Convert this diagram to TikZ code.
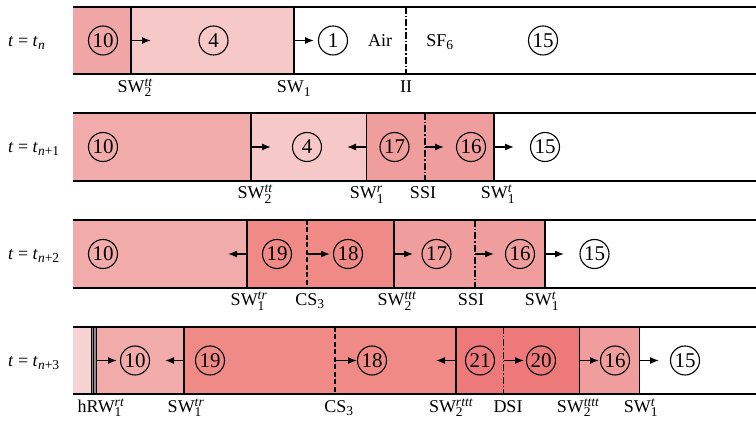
\documentclass[tikz,border=0pt]{standalone}
\usepackage{fontspec}
\setmainfont{Liberation Serif}
\usetikzlibrary{arrows.meta}
\newcommand{\fs}{\fontsize{18}{21}\selectfont}
\newcommand{\fn}{\fontsize{21}{24}\selectfont}
\newcommand{\sm}{\fontsize{13.5}{14}\selectfont}
% label with subscript and italic superscript
\newcommand{\swl}[3]{#1$_{\hbox{\sm #2}}^{\hbox{\sm\itshape #3}}$}
\newcommand{\tl}[1]{\textit{t} = \textit{t}$_{\hbox{\sm #1}}$}
\definecolor{cTenA}{HTML}{F0A6A6}
\definecolor{cFour}{HTML}{F6C8C8}
\definecolor{cTen}{HTML}{F2ABAB}
\definecolor{cSeven}{HTML}{EF9D9D}
\definecolor{cNine}{HTML}{EF8A86}
\definecolor{cTwenty}{HTML}{EE797B}
\definecolor{cPale}{HTML}{F8D2D2}
\tikzset{
  rail/.style={line width=2pt},
  wall/.style={line width=1.1pt},
  iface/.style={line width=1.1pt, dash pattern=on 7pt off 2pt on 1.5pt off 2pt},
  csline/.style={line width=1.1pt, dash pattern=on 5pt off 2.5pt},
  num/.style={circle, draw, line width=1.1pt, minimum size=29pt, inner sep=0pt, font=\fn},
  flow/.style={-{Latex[length=9pt,width=7pt]}, line width=1.3pt},
  lab/.style={anchor=base, inner sep=0pt, font=\fs},
  rowlab/.style={anchor=base west, inner sep=0pt, font=\fs},
}
\begin{document}
\begin{tikzpicture}[x=1pt,y=-1pt]
\useasboundingbox (0,0) rectangle (756,427);

% ---------------- row 1: t = t_n
\fill[cTenA] (73,7) rectangle (131,74);
\fill[cFour] (131,7) rectangle (294,74);
\draw[wall] (131,7) -- (131,74);
\draw[wall] (294,7) -- (294,74);
\draw[iface] (406,7) -- (406,74);
\draw[rail] (73,7) -- (756,7);
\draw[rail] (73,74) -- (756,74);
\node[rowlab] (t0) at (8,46.5) {\tl{\itshape n}};
\node[num] (a10) at (103,40.5) {10};
\node[num] (a4) at (213.5,40.5) {4};
\node[num] (a1) at (333,40.5) {1};
\node[font=\fs] (air) at (380,40.5) {Air};
\node[lab] (sf) at (440,46.5) {SF$_{\hbox{\sm 6}}$};
\node[num] (a15) at (543,40.5) {15};
\coordinate (a1s) at (131,40.5); \coordinate (a1e) at (151,40.5);
\coordinate (a2s) at (294,40.5); \coordinate (a2e) at (314,40.5);
\draw[flow] (a1s) -- (a1e);
\draw[flow] (a2s) -- (a2e);
\node[lab] (la1) at (135,92.5) {\swl{SW}{2}{tt}};
\node[lab] (la2) at (294,92.5) {\swl{SW}{1}{}};
\node[lab] (la3) at (406,92.5) {II};

% ---------------- row 2: t = t_{n+1}
\fill[cTen] (73,113) rectangle (251,181);
\fill[cFour] (251,113) rectangle (366.5,181);
\fill[cSeven] (366.5,113) rectangle (494,181);
\draw[wall] (251,113) -- (251,181);
\draw[wall] (366.5,113) -- (366.5,181);
\draw[iface] (425,113) -- (425,181);
\draw[wall] (494,113) -- (494,181);
\draw[rail] (73,113) -- (756,113);
\draw[rail] (73,181) -- (756,181);
\node[rowlab] (t1) at (8,153) {\tl{\itshape n\upshape+1}};
\node[num] (b10) at (103,147) {10};
\node[num] (b4) at (307,147) {4};
\node[num] (b17) at (394.5,147) {17};
\node[num] (b16) at (471,147) {16};
\node[num] (b15) at (545,147) {15};
\coordinate (b1s) at (251,147);   \coordinate (b1e) at (271,147);
\coordinate (b2s) at (366.5,147); \coordinate (b2e) at (347,147);
\coordinate (b3s) at (425,147);   \coordinate (b3e) at (444,147);
\coordinate (b4s) at (494,147);   \coordinate (b4e) at (514,147);
\draw[flow] (b1s) -- (b1e);
\draw[flow] (b2s) -- (b2e);
\draw[flow] (b3s) -- (b3e);
\draw[flow] (b4s) -- (b4e);
\node[lab] (lb1) at (255,199) {\swl{SW}{2}{tt}};
\node[lab] (lb2) at (367,199) {\swl{SW}{1}{r}};
\node[lab] (lb3) at (423,199) {SSI};
\node[lab] (lb4) at (498,199) {\swl{SW}{1}{t}};

% ---------------- row 3: t = t_{n+2}
\fill[cTen] (73,220) rectangle (247,288);
\fill[cNine] (247,220) rectangle (394,288);
\fill[cSeven] (394,220) rectangle (545,288);
\draw[wall] (247,220) -- (247,288);
\draw[csline] (307,220) -- (307,288);
\draw[wall] (394,220) -- (394,288);
\draw[iface] (475,220) -- (475,288);
\draw[wall] (545,220) -- (545,288);
\draw[rail] (73,220) -- (756,220);
\draw[rail] (73,288) -- (756,288);
\node[rowlab] (t2) at (8,260) {\tl{\itshape n\upshape+2}};
\node[num] (c10) at (103,254) {10};
\node[num] (c19) at (277,254) {19};
\node[num] (c18) at (348,254) {18};
\node[num] (c17) at (436.5,254) {17};
\node[num] (c16) at (520,254) {16};
\node[num] (c15) at (594.5,254) {15};
\coordinate (c1s) at (247,254); \coordinate (c1e) at (228,254);
\coordinate (c2s) at (307,254); \coordinate (c2e) at (330,254);
\coordinate (c3s) at (394,254); \coordinate (c3e) at (413,254);
\coordinate (c4s) at (475,254); \coordinate (c4e) at (494,254);
\coordinate (c5s) at (545,254); \coordinate (c5e) at (564,254);
\draw[flow] (c1s) -- (c1e);
\draw[flow] (c2s) -- (c2e);
\draw[flow] (c3s) -- (c3e);
\draw[flow] (c4s) -- (c4e);
\draw[flow] (c5s) -- (c5e);
\node[lab] (lc1) at (249,306) {\swl{SW}{1}{tr}};
\node[lab] (lc2) at (310,306) {CS$_{\hbox{\sm 3}}$};
\node[lab] (lc3) at (397,306) {\swl{SW}{2}{ttt}};
\node[lab] (lc4) at (471,306) {SSI};
\node[lab] (lc5) at (542,306) {\swl{SW}{1}{t}};

% ---------------- row 4: t = t_{n+3}
\fill[cPale] (73,327) rectangle (92,394);
\fill[cTen] (92,327) rectangle (184,394);
\fill[cNine] (184,327) rectangle (456,394);
\fill[cTwenty] (456,327) rectangle (579.5,394);
\fill[cSeven] (579.5,327) rectangle (639.5,394);
% reflected-wall marker: triple line
\fill[black!45] (91,327) rectangle (96.5,394);
\draw[line width=1pt] (91.5,327) -- (91.5,394);
\draw[line width=0.8pt] (93.8,327) -- (93.8,394);
\draw[line width=1pt] (96,327) -- (96,394);
\draw[wall] (184,327) -- (184,394);
\draw[csline] (335,327) -- (335,394);
\draw[wall] (456,327) -- (456,394);
\draw[iface] (503.5,327) -- (503.5,394);
\draw[wall] (579.5,327) -- (579.5,394);
\draw[wall] (639.5,327) -- (639.5,394);
\draw[rail] (73,327) -- (756,327);
\draw[rail] (73,394) -- (756,394);
\node[rowlab] (t3) at (8,366.5) {\tl{\itshape n\upshape+3}};
\node[num] (d10) at (135,360.5) {10};
\node[num] (d19) at (210,360.5) {19};
\node[num] (d18) at (372,360.5) {18};
\node[num] (d21) at (480,360.5) {21};
\node[num] (d20) at (541,360.5) {20};
\node[num] (d16) at (615,360.5) {16};
\node[num] (d15) at (685,360.5) {15};
\coordinate (d1s) at (96.5,360.5); \coordinate (d1e) at (117,360.5);
\coordinate (d2s) at (184,360.5);  \coordinate (d2e) at (165,360.5);
\coordinate (d3s) at (335,360.5);  \coordinate (d3e) at (357,360.5);
\coordinate (d4s) at (456,360.5);  \coordinate (d4e) at (436,360.5);
\coordinate (d5s) at (503.5,360.5);\coordinate (d5e) at (524,360.5);
\coordinate (d6s) at (579.5,360.5);\coordinate (d6e) at (599,360.5);
\coordinate (d7s) at (639.5,360.5);\coordinate (d7e) at (659,360.5);
\draw[flow] (d1s) -- (d1e);
\draw[flow] (d2s) -- (d2e);
\draw[flow] (d3s) -- (d3e);
\draw[flow] (d4s) -- (d4e);
\draw[flow] (d5s) -- (d5e);
\draw[flow] (d6s) -- (d6e);
\draw[flow] (d7s) -- (d7e);
\node[lab] (ld1) at (101,412.5) {\swl{hRW}{1}{rt}};
\node[lab] (ld2) at (186,412.5) {\swl{SW}{1}{tr}};
\node[lab] (ld3) at (339,412.5) {CS$_{\hbox{\sm 3}}$};
\node[lab] (ld4) at (451,412.5) {\swl{SW}{2}{rttt}};
\node[lab] (ld5) at (508,412.5) {DSI};
\node[lab] (ld6) at (578,412.5) {\swl{SW}{2}{tttt}};
\node[lab] (ld7) at (641,412.5) {\swl{SW}{1}{t}};
\end{tikzpicture}
\end{document}
